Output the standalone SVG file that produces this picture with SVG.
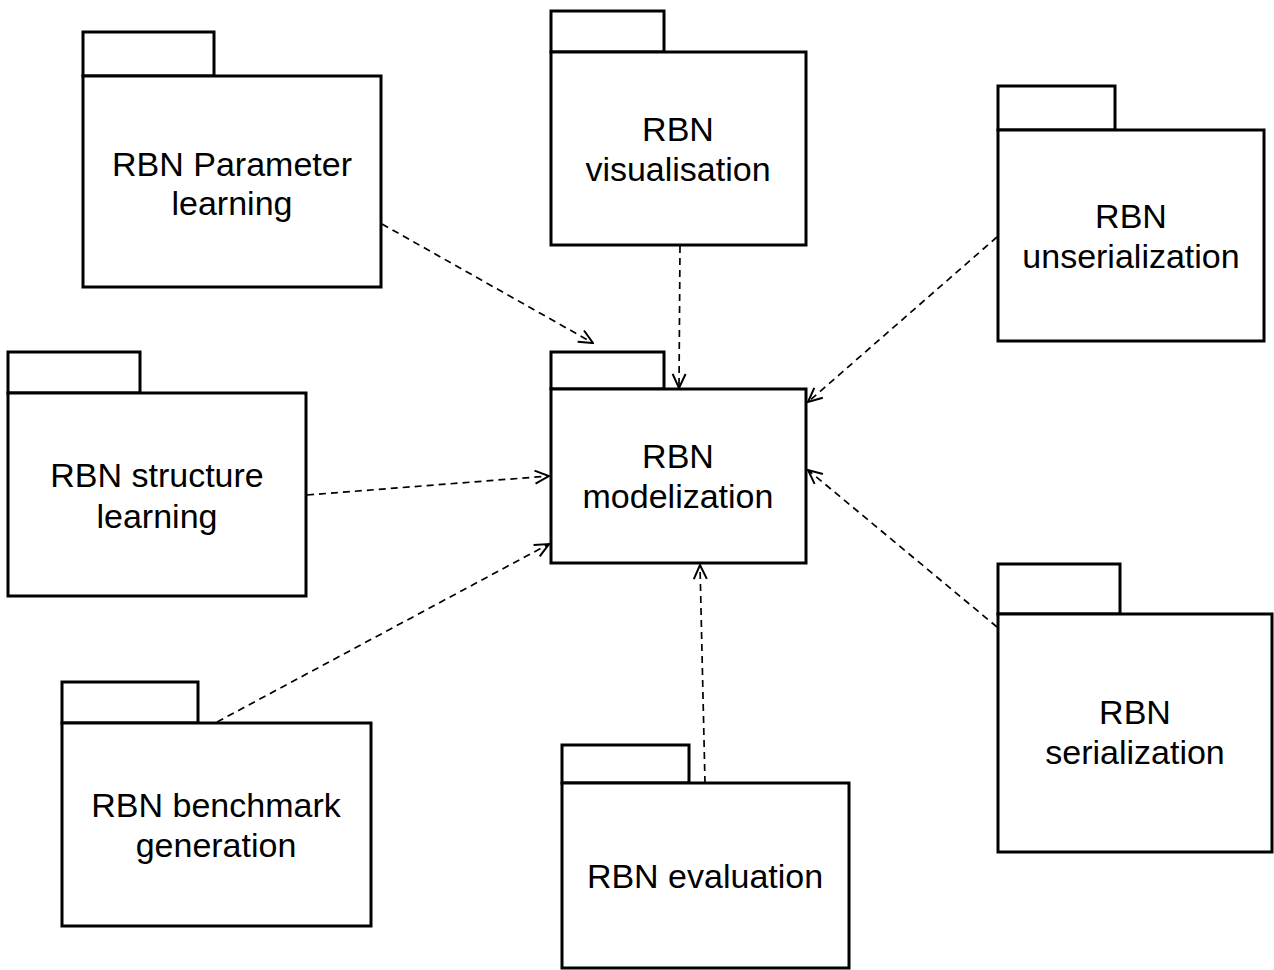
<svg xmlns="http://www.w3.org/2000/svg" width="1274" height="970" viewBox="0 0 1274 970">
<style>
.box{fill:#fff;stroke:#000;stroke-width:3;stroke-linejoin:miter}
.lbl{font-family:"Liberation Sans",Arial,sans-serif;font-size:34px;fill:#000;text-anchor:middle}
.dep{fill:none;stroke:#000;stroke-width:1.7;stroke-dasharray:7 5}
</style>
<defs>
<marker id="open" viewBox="0 0 16 16" refX="15" refY="8" markerWidth="16" markerHeight="16" markerUnits="userSpaceOnUse" orient="auto">
<path d="M1,1.5 L15,8 L1,14.5" fill="none" stroke="#000" stroke-width="2"/>
</marker>
</defs>
<rect width="1274" height="970" fill="#fff"/>

<g id="param">
<rect class="box" x="83" y="32" width="131" height="44"/>
<rect class="box" x="83" y="76" width="298" height="211"/>
<text class="lbl" x="232" y="176">RBN Parameter</text>
<text class="lbl" x="232" y="215">learning</text>
</g>

<g id="visual">
<rect class="box" x="551" y="11" width="113" height="41"/>
<rect class="box" x="551" y="52" width="255" height="193"/>
<text class="lbl" x="678" y="141">RBN</text>
<text class="lbl" x="678" y="181">visualisation</text>
</g>

<g id="unserial">
<rect class="box" x="998" y="86" width="117" height="44"/>
<rect class="box" x="998" y="130" width="266" height="211"/>
<text class="lbl" x="1131" y="228">RBN</text>
<text class="lbl" x="1131" y="268">unserialization</text>
</g>

<g id="structure">
<rect class="box" x="8" y="352" width="132" height="41"/>
<rect class="box" x="8" y="393" width="298" height="203"/>
<text class="lbl" x="157" y="487">RBN structure</text>
<text class="lbl" x="157" y="528">learning</text>
</g>

<g id="model">
<rect class="box" x="551" y="352" width="113" height="37"/>
<rect class="box" x="551" y="389" width="255" height="174"/>
<text class="lbl" x="678" y="468">RBN</text>
<text class="lbl" x="678" y="508">modelization</text>
</g>

<g id="bench">
<rect class="box" x="62" y="682" width="136" height="41"/>
<rect class="box" x="62" y="723" width="309" height="203"/>
<text class="lbl" x="216" y="817">RBN benchmark</text>
<text class="lbl" x="216" y="857">generation</text>
</g>

<g id="eval">
<rect class="box" x="562" y="745" width="127" height="38"/>
<rect class="box" x="562" y="783" width="287" height="185"/>
<text class="lbl" x="705" y="888">RBN evaluation</text>
</g>

<g id="serial">
<rect class="box" x="998" y="564" width="122" height="50"/>
<rect class="box" x="998" y="614" width="274" height="238"/>
<text class="lbl" x="1135" y="724">RBN</text>
<text class="lbl" x="1135" y="764">serialization</text>
</g>

<g id="connectors">
<line class="dep" x1="382" y1="224" x2="593" y2="343" marker-end="url(#open)"/>
<line class="dep" x1="680" y1="246" x2="679" y2="388" marker-end="url(#open)"/>
<line class="dep" x1="997" y1="237" x2="808" y2="402" marker-end="url(#open)"/>
<line class="dep" x1="307" y1="495" x2="549" y2="476" marker-end="url(#open)"/>
<line class="dep" x1="217" y1="722" x2="549" y2="544" marker-end="url(#open)"/>
<line class="dep" x1="705" y1="783" x2="700" y2="565" marker-end="url(#open)"/>
<line class="dep" x1="997" y1="627" x2="808" y2="470" marker-end="url(#open)"/>
</g>
</svg>
